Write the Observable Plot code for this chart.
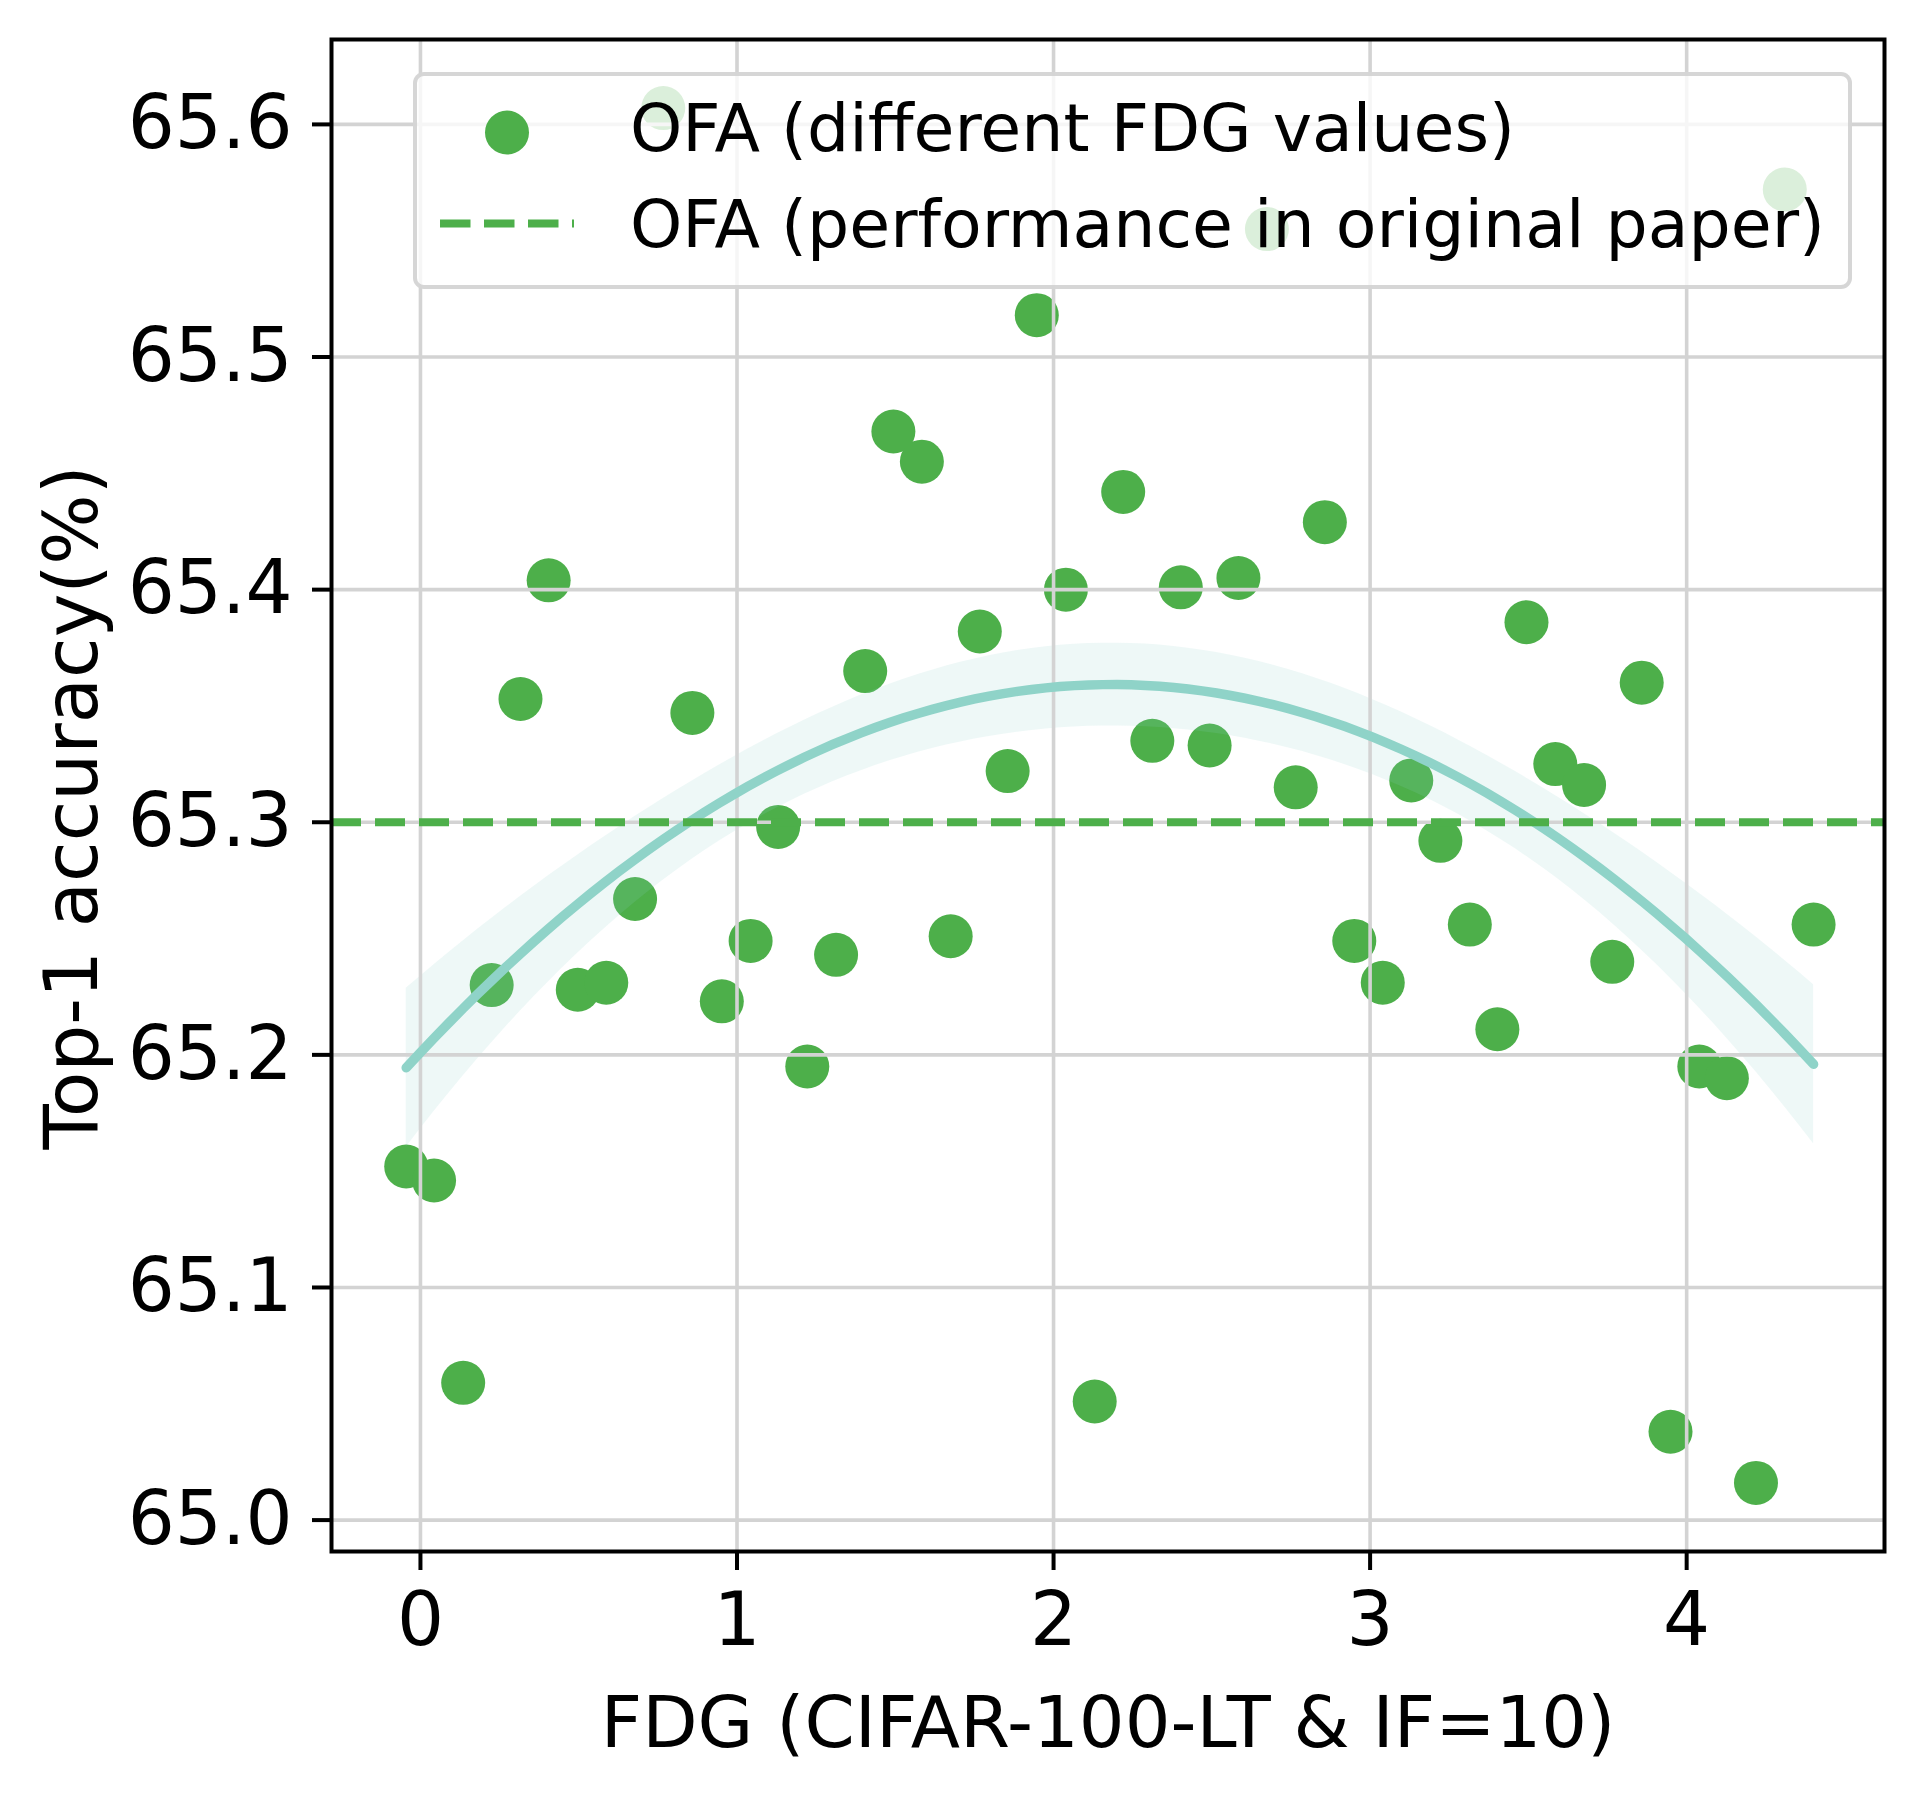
<!DOCTYPE html>
<html>
<head>
<meta charset="utf-8">
<script src="https://cdn.jsdelivr.net/npm/d3@7"></script>
<script src="https://cdn.jsdelivr.net/npm/@observablehq/plot@0.6"></script>
<style>
  body { margin: 0; background: #fff; }
  #wrap { position: relative; width: 1923px; height: 1793px; font-family: "DejaVu Sans", sans-serif; }
  #legend { position: absolute; left: 413px; top: 72px; width: 1439px; height: 217px; box-sizing: border-box;
            border: 4px solid rgba(204,204,204,0.8); border-radius: 11px; background: rgba(255,255,255,0.8); }
  #legendKeys { position: absolute; left: 0; top: 0; pointer-events: none; }
</style>
</head>
<body>
<div id="wrap"></div>
<script>
// ---- data ----
const fdg = [-0.045, 0.043, 0.135, 0.225, 0.316, 0.405, 0.497, 0.587, 0.678, 0.767,
             0.859, 0.952, 1.043, 1.130, 1.222, 1.313, 1.405, 1.494, 1.584, 1.675,
             1.767, 1.855, 1.947, 2.039, 2.130, 2.220, 2.312, 2.402, 2.493, 2.584,
             2.674, 2.765, 2.857, 2.950, 3.040, 3.130, 3.222, 3.315, 3.402, 3.494,
             3.585, 3.676, 3.765, 3.858, 3.949, 4.040, 4.127, 4.219, 4.310, 4.401];
const acc = [65.152, 65.146, 65.059, 65.230, 65.353, 65.404, 65.228, 65.231, 65.267, 65.607,
             65.347, 65.223, 65.249, 65.298, 65.195, 65.243, 65.365, 65.468, 65.455, 65.251,
             65.382, 65.322, 65.518, 65.400, 65.051, 65.442, 65.335, 65.401, 65.333, 65.405,
             65.555, 65.315, 65.429, 65.249, 65.231, 65.318, 65.292, 65.256, 65.211, 65.386,
             65.325, 65.316, 65.240, 65.360, 65.038, 65.195, 65.190, 65.016, 65.572, 65.256];
const paperAcc = 65.3;
const xTicks = [0, 1, 2, 3, 4];
const yTicks = [65.0, 65.1, 65.2, 65.3, 65.4, 65.5, 65.6];
const xLabel = "FDG (CIFAR-100-LT & IF=10)";
const yLabel = "Top-1 accuracy(%)";
const legendLabels = ["OFA (different FDG values)", "OFA (performance in original paper)"];

const green = "#4daf4a";
const teal = "#8dd3c7";

const points = fdg.map((x, i) => ({x, y: acc[i]}));

// ---- quadratic least-squares fit with confidence band ----
function inv3(m) {
  const [a,b,c,d,e,f,g,h,k] = [m[0][0],m[0][1],m[0][2],m[1][0],m[1][1],m[1][2],m[2][0],m[2][1],m[2][2]];
  const A = e*k - f*h, B = -(d*k - f*g), C = d*h - e*g;
  const det = a*A + b*B + c*C;
  return [
    [A/det, -(b*k - c*h)/det, (b*f - c*e)/det],
    [B/det, (a*k - c*g)/det, -(a*f - c*d)/det],
    [C/det, -(a*h - b*g)/det, (a*e - b*d)/det]
  ];
}
const XtX = [[0,0,0],[0,0,0],[0,0,0]], Xty = [0,0,0];
points.forEach(({x, y}) => {
  const v = [1, x, x*x];
  for (let i = 0; i < 3; i++) { Xty[i] += v[i]*y; for (let j = 0; j < 3; j++) XtX[i][j] += v[i]*v[j]; }
});
const Minv = inv3(XtX);
const beta = [0,1,2].map(i => Minv[i][0]*Xty[0] + Minv[i][1]*Xty[1] + Minv[i][2]*Xty[2]);
const predict = x => beta[0] + beta[1]*x + beta[2]*x*x;
const n = points.length;
const s2 = d3.sum(points, p => (p.y - predict(p.x))**2) / (n - 3);
const tcrit = 0.68; // 50% interval
const [xmin, xmax] = d3.extent(fdg);
const curve = d3.range(100).map(i => {
  const x = xmin + (xmax - xmin) * i / 99;
  const v = [1, x, x*x];
  let q = 0;
  for (let a = 0; a < 3; a++) for (let b = 0; b < 3; b++) q += v[a]*Minv[a][b]*v[b];
  const se = Math.sqrt(s2 * q);
  const f = predict(x);
  return {x, fit: f, lo: f - tcrit*se, hi: f + tcrit*se};
});

const gridStyle = {stroke: "#d3d3d3", strokeOpacity: 1, strokeWidth: 3.6};

const chart = Plot.plot({
  width: 1923,
  height: 1793,
  marginLeft: 331,
  marginRight: 39,
  marginTop: 39,
  marginBottom: 242,
  style: {fontFamily: "DejaVu Sans, sans-serif", background: "white", color: "black"},
  x: {domain: [-0.281, 4.625]},
  y: {domain: [64.9865, 65.6365]},
  marks: [
    Plot.dot(points, {x: "x", y: "y", r: 22, fill: green}),
    Plot.areaY(curve, {x: "x", y1: "lo", y2: "hi", fill: teal, fillOpacity: 0.15}),
    Plot.gridX(xTicks, gridStyle),
    Plot.gridY(yTicks, gridStyle),
    Plot.line(curve, {x: "x", y: "fit", stroke: "#8fd3c8", strokeWidth: 9.5}),
    Plot.ruleY([paperAcc], {stroke: green, strokeWidth: 8, strokeDasharray: "30,14"}),
    Plot.axisX(xTicks, {tickSize: 19, tickPadding: 22, fontSize: 74, strokeWidth: 4, label: null,
                        tickFormat: d => String(d)}),
    Plot.axisY(yTicks, {tickSize: 19, tickPadding: 20, fontSize: 74, strokeWidth: 4, label: null,
                        tickFormat: d => d.toFixed(1)}),
    Plot.frame({stroke: "black", strokeWidth: 4}),
    Plot.text([xLabel], {frameAnchor: "bottom", dy: 172, fontSize: 72, lineAnchor: "middle", textAnchor: "middle"}),
    Plot.text([yLabel], {frameAnchor: "left", dx: -258, dy: 12, rotate: -90, fontSize: 74, lineAnchor: "middle", textAnchor: "middle"})
  ]
});

const wrap = document.getElementById("wrap");
wrap.appendChild(chart);

// ---- legend (semi-transparent box on top of the plot) ----
const legend = document.createElement("div");
legend.id = "legend";
wrap.appendChild(legend);

const ns = "http://www.w3.org/2000/svg";
const keys = document.createElementNS(ns, "svg");
keys.setAttribute("id", "legendKeys");
keys.setAttribute("width", 1923);
keys.setAttribute("height", 400);
keys.innerHTML = `
  <circle cx="507" cy="132.5" r="22" fill="${green}"></circle>
  <line x1="440" x2="574" y1="223.5" y2="223.5" stroke="${green}" stroke-width="8" stroke-dasharray="30.5,13.5"></line>
  <text x="630" y="150.5" font-size="66.5" font-family="DejaVu Sans, sans-serif" fill="black"></text>
  <text x="630" y="246.5" font-size="66.5" font-family="DejaVu Sans, sans-serif" fill="black"></text>`;
const texts = keys.querySelectorAll("text");
texts[0].textContent = legendLabels[0];
texts[1].textContent = legendLabels[1];
wrap.appendChild(keys);
</script>
</body>
</html>
